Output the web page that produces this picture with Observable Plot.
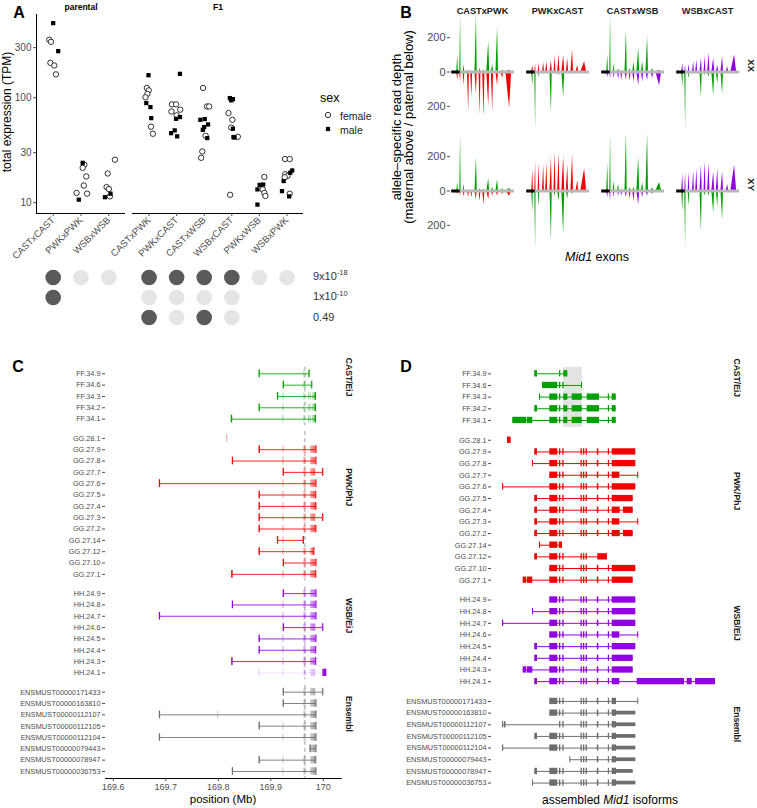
<!DOCTYPE html>
<html><head><meta charset="utf-8">
<script src="https://cdn.jsdelivr.net/npm/d3@7"></script>
<script src="https://cdn.jsdelivr.net/npm/@observablehq/plot@0.6"></script>
<style>
body{margin:0;background:#fff;font-family:"Liberation Sans",Arial,sans-serif;}
#fig{position:relative;width:757px;height:808px;overflow:hidden;background:#fff;}
.lbl{position:absolute;white-space:nowrap;line-height:1;}
.lbl sup{font-size:0.68em;vertical-align:0;position:relative;top:-0.55em;}
</style></head><body><div id="fig"></div>
<script>
// ================= DATA =================
// Panel A: total expression (TPM); each entry [TPM, sex, jitter (in category units)]
const parentalCats = ["CASTxCAST","PWKxPWK","WSBxWSB"];
const f1Cats = ["CASTxPWK","PWKxCAST","CASTxWSB","WSBxCAST","PWKxWSB","WSBxPWK"];
const exprCASTxCAST = [[514,"male",0],[357,"female",-0.14],[341,"female",-0.08],[278,"male",0.18],[215,"female",-0.1],[203,"female",0.04],[167,"female",0.1]];
const exprPWKxPWK = [[24,"male",0.06],[23,"female",0.12],[21.5,"female",0.06],[17.8,"female",0.19],[14.6,"female",0.1],[12.4,"female",-0.16],[12.2,"female",0.22],[10.7,"male",-0.08]];
const exprWSBxWSB = [[25.7,"female",0.22],[19,"female",-0.04],[14.1,"female",-0.08],[13.5,"female",0],[12.2,"male",0.06],[11.5,"female",0.04],[11.3,"male",-0.14]];
const exprCASTxPWK = [[164,"male",-0.02],[124,"female",-0.08],[117.6,"female",-0.01],[109,"female",-0.06],[101,"female",-0.13],[89,"male",-0.1],[81.5,"male",0.05],[64,"male",0.08],[53,"female",0.07],[45.4,"female",0.14]];
const exprPWKxCAST = [[169,"male",0.12],[86.5,"female",-0.17],[86.5,"female",-0.02],[74,"female",-0.19],[77,"female",0.13],[68,"female",0],[65.5,"male",0.12],[63,"male",-0.02],[48.9,"male",-0.07],[46,"male",-0.2],[42.9,"male",0.02]];
const exprCASTxWSB = [[124,"female",-0.04],[82.6,"female",0.1],[82.6,"female",0.18],[61.7,"male",-0.14],[62.7,"male",0.02],[55.7,"male",0.14],[52.5,"male",0],[49.5,"male",-0.05],[43.5,"female",0.05],[41.3,"male",0.11],[30.8,"female",-0.07],[26.8,"female",-0.11]];
const exprWSBxCAST = [[99.3,"male",-0.07],[97,"male",0.04],[94.5,"male",-0.02],[71.5,"female",-0.12],[61.7,"female",0.02],[52,"female",-0.02],[50.7,"male",0.04],[42.2,"male",0.06],[41.8,"male",0.1],[42.5,"female",0.22],[11.9,"female",-0.06]];
const exprPWKxWSB = [[17.6,"female",0.18],[14.8,"male",0.01],[14.9,"male",0.14],[13.4,"male",-0.07],[13.4,"female",0.12],[12.4,"female",0.18],[11.6,"female",0.22],[9.6,"male",-0.07]];
const exprWSBxPWK = [[26.1,"female",-0.07],[26.1,"female",0.1],[20.3,"male",0.19],[19.3,"male",0.12],[18.7,"female",-0.06],[18,"female",0.02],[17.5,"female",-0.08],[16.1,"male",-0.12],[12.9,"male",-0.18],[12.2,"female",0.1],[11.5,"male",0.08]];
const yTicksA = [10,30,100,300];
// significance matrix (1 = significant, 0 = not, null = not tested)
const pLabels = ["9x10<sup>-18</sup>","1x10<sup>-10</sup>","0.49"];
const sigRow1 = [1,0,0, 1,1,1,1,0,0];
const sigRow2 = [1,null,null, 0,0,0,0,null,null];
const sigRow3 = [null,null,null, 1,0,1,0,null,null];

// Panel B: allele-specific read depth per exon (maternal above / paternal below)
const crosses = ["CASTxPWK","PWKxCAST","CASTxWSB","WSBxCAST"];
const karyotypes = ["XX","XY"];
const exonCenter = [0.11,0.155,0.21,0.28,0.33,0.40,0.46,0.52,0.59,0.655,0.73,0.81,0.91];
const exonWidth  = [0.025,0.02,0.025,0.03,0.03,0.035,0.03,0.035,0.045,0.035,0.04,0.04,0.09];
const untypedExons = [0.035,0.08,0.12];
const mat_CASTxPWK_XX = [98,335,43,10,5,335,20,10,180,43,263,10,10];
const pat_CASTxPWK_XX = [50,60,80,230,150,130,250,260,200,230,80,40,210];
const mat_PWKxCAST_XX = [40,45,50,55,60,65,90,100,95,80,130,40,60];
const pat_PWKxCAST_XX = [80,335,30,10,10,240,10,20,150,10,10,5,5];
const mat_CASTxWSB_XX = [100,335,50,20,10,240,20,60,140,60,210,20,10];
const pat_CASTxWSB_XX = [35,40,40,45,50,50,55,60,80,60,50,40,80];
const mat_WSBxCAST_XX = [50,40,45,60,70,80,90,110,80,40,90,30,100];
const pat_WSBxCAST_XX = [90,335,40,10,10,150,20,30,140,70,130,10,10];
const mat_CASTxPWK_XY = [50,335,40,5,5,200,15,10,70,20,65,15,15];
const pat_CASTxPWK_XY = [20,30,35,40,40,50,60,80,50,30,30,20,30];
const mat_PWKxCAST_XY = [120,170,160,150,165,200,230,220,200,150,210,60,130];
const pat_PWKxCAST_XY = [120,335,90,10,10,290,30,60,250,50,20,10,10];
const mat_CASTxWSB_XY = [160,335,60,40,10,335,20,20,200,50,335,20,50];
const pat_CASTxWSB_XY = [40,60,40,30,30,40,50,60,80,40,30,20,10];
const mat_WSBxCAST_XY = [100,110,110,115,130,150,170,160,110,130,110,40,150];
const pat_WSBxCAST_XY = [120,335,90,10,10,240,30,30,130,90,170,10,10];

// Panels C & D: isoforms and their exons
const groupNames = ["CAST/EiJ","PWK/PhJ","WSB/EiJ","Ensembl"];
const mainExons = ["M","b","c","d","e","f","g","h"];
const castIsoforms = ["FF.34.9","FF.34.6","FF.34.3","FF.34.2","FF.34.1"];
const castExons = [["a","b","fc"],["f6","b","c","ft"],["s159","M","b","fc","fd","fe","h","fu"],["a","M","b","fc","fd","fe","h","fu"],["p1","p2","M","b","fc","fd","fe","h","fu"]];
const pwkIsoforms = ["GG.28.1","GG.27.9","GG.27.8","GG.27.7","GG.27.6","GG.27.5","GG.27.4","GG.27.3","GG.27.2","GG.27.14","GG.27.12","GG.27.10","GG.27.1"];
const pwkExons = [["g28"],["a",...mainExons,"U"],["s152",...mainExons,"U"],[...mainExons,"Ua","e773"],["s0",...mainExons,"U"],["a",...mainExons,"U2"],["a",...mainExons,"Uc","Ub"],["a",...mainExons,"Ua","e773"],["a",...mainExons,"Uc","Ub"],["s159","M","g14"],["a","M","b","c","d","e","f","g12"],[...mainExons,"U"],["q1","p2",...mainExons,"U2"]];
const wsbIsoforms = ["HH.24.9","HH.24.8","HH.24.7","HH.24.6","HH.24.5","HH.24.4","HH.24.3","HH.24.1"];
const wsbExons = [[...mainExons,"U"],["s152",...mainExons,"U"],["s0",...mainExons,"U"],[...mainExons,"Ua","e773"],["a",...mainExons,"U"],["a",...mainExons,"U2"],["q1","p2",...mainExons,"U2"],["a",...mainExons,"Ua","x1","x2","x3"]];
const ensIsoforms = ["ENSMUST00000171433","ENSMUST00000163810","ENSMUST00000112107","ENSMUST00000112105","ENSMUST00000112104","ENSMUST00000079443","ENSMUST00000078947","ENSMUST00000036753"];
const ensExons = [[...mainExons,"Uth","e773"],[...mainExons,"Uth","Ut"],["s0","s0b","b","c","d","e","f","g","h","Uth","Ut"],["a",...mainExons,"Uth","Ut"],["s0",...mainExons,"Uth","Ut"],["s190","d","e","f","g","h","Uth","Ut"],["a",...mainExons,"Uth","Ut2"],["s152",...mainExons,"Uth","Ut"]];
const faintIsoforms = ["HH.24.1"];
const thinExons = ["Ut","Ut2"];
// genomic exon coordinates (Mb) for panel C
const exonMbStart = {s0:169.688,s0b:169.8,g28:169.817,p1:169.825,q1:169.826,p2:169.8265,s152:169.827,a:169.878,s159:169.913,f6:169.924,M:169.924,b:169.964,c:169.966,g14:169.962,fc:169.973,fd:169.976,s190:169.975,d:169.977,ft:169.978,e:169.979,f:169.980,fe:169.981,g:169.982,g12:169.981,h:169.983,fu:169.984,U:169.984,U2:169.984,Ua:169.984,Uc:169.984,Ub:169.9852,Uth:169.984,Ut:169.985,Ut2:169.985,e773:169.999,x1:170.000,x2:170.0035,x3:170.0045};
const exonMbEnd   = {s0:169.688,s0b:169.8,g28:169.817,p1:169.825,q1:169.826,p2:169.827,s152:169.827,a:169.878,s159:169.913,f6:169.924,M:169.924,b:169.964,c:169.966,g14:169.962,fc:169.973,fd:169.976,s190:169.975,d:169.977,ft:169.978,e:169.979,f:169.980,fe:169.981,g:169.982,g12:169.982,h:169.983,fu:169.985,U:169.986,U2:169.9855,Ua:169.985,Uc:169.985,Ub:169.9858,Uth:169.985,Ut:169.986,Ut2:169.9855,e773:169.999,x1:170.003,x2:170.004,x3:170.006};
// assembled (intron-compressed) exon coordinates for panel D
const isoExonStart = {s0:122,s0b:124,g28:127,p1:132.3,q1:142.7,p2:146.7,s152:152,a:154.3,s159:159,f6:162,M:169.3,b:179,c:182.3,g14:178.7,fc:183.3,fd:191.7,s190:189.3,d:200.5,ft:201,e:203,f:205.6,fe:206.7,g:216.8,g12:217.3,h:227.8,fu:231.7,U:231.7,U2:231.7,Ua:231.7,Uc:231.7,Ub:243,Uth:231.7,Ut:236,Ut2:236,e773:257.2,x1:256.7,x2:306.7,x3:315};
const isoExonEnd   = {s0:123.2,s0b:125.5,g28:130.7,p1:146,q1:146,p2:152.3,s152:153,a:157,s159:160,f6:177.3,M:177.3,b:180.3,c:183.6,g14:182,fc:187.3,fd:201.7,s190:190.3,d:201.8,ft:202,e:204.3,f:206.9,fe:219,g:218.3,g12:227,h:229,fu:235.7,U:255.3,U2:252.7,Ua:239.3,Uc:239.7,Ub:252.7,Uth:236,Ut:255.3,Ut2:252.7,e773:258.2,x1:304,x2:311.7,x3:335};
const highlightIso = [183, 201.7];
const boundaryMb = 169.965;
const xTicksC = [169.6,169.7,169.8,169.9,170];

// ================= STYLE / HELPERS =================
const FONT = "Liberation Sans, Arial, sans-serif";
const strainColor = {CAST:"#00A000", PWK:"#F00000", WSB:"#9000E0"};
const groupColor = ["#00A000","#F00000","#9000E0","#6E6E6E"];
const fig = document.getElementById("fig");
function place(el, left, top){ el.style.position="absolute"; el.style.left=left+"px"; el.style.top=top+"px"; fig.appendChild(el); }
function label(html, x, y, o={}){
  const d=document.createElement("div"); d.className="lbl"; d.innerHTML=html;
  d.style.fontSize=(o.size||11)+"px"; d.style.color=o.color||"#000";
  if(o.bold) d.style.fontWeight="bold";
  const ax = o.anchor==="start"?"0%":o.anchor==="end"?"-100%":"-50%";
  d.style.left=x+"px"; d.style.top=y+"px";
  d.style.transform=`translate(${ax},-50%)`+(o.rotate?` rotate(${o.rotate}deg)`:"");
  fig.appendChild(d);
}
const baseStyle = {fontFamily:FONT, background:"transparent", overflow:"visible"};

// ================= PANEL A =================
function toRows(cats, arrays){
  const out=[]; arrays.forEach((arr,i)=>arr.forEach(([v,sex,j])=>out.push({cat:cats[i], idx:i, x:i+j, tpm:v, sex})));
  return out;
}
const parentalData = toRows(parentalCats,[exprCASTxCAST,exprPWKxPWK,exprWSBxWSB]);
const f1Data = toRows(f1Cats,[exprCASTxPWK,exprPWKxCAST,exprCASTxWSB,exprWSBxCAST,exprPWKxWSB,exprWSBxPWK]);
const yDomA = [7.9, 621];
function exprPlot(cats, data, width, mL, mR, showY){
  const n=cats.length;
  return Plot.plot({
    width, height:330, marginLeft:mL, marginRight:mR, marginTop:14, marginBottom:117,
    style:{...baseStyle, fontSize:"10px"},
    x:{domain:[-0.6, n-0.4]}, y:{type:"log", domain:yDomA},
    marks:[
      showY ? Plot.ruleX([-0.6],{stroke:"#000", strokeWidth:1}) : null,
      Plot.ruleY([yDomA[0]],{stroke:"#000", strokeWidth:1}),
      showY ? Plot.axisY({ticks:yTicksA, tickFormat:d=>String(d), tickSize:3, tickPadding:2, fontSize:10, color:"#4d4d4d", label:null}) : Plot.axisY({ticks:[], label:null}),
      Plot.axisX({ticks:d3.range(n), tickFormat:i=>cats[i], tickRotate:-45, tickSize:3, tickPadding:2, fontSize:9.5, color:"#4d4d4d", label:null}),
      Plot.dot(data.filter(d=>d.sex==="female"),{x:"x", y:"tpm", symbol:"circle", r:2.7, stroke:"#000", strokeWidth:0.8, fill:"#fff"}),
      Plot.dot(data.filter(d=>d.sex==="male"),{x:"x", y:"tpm", symbol:"square", r:2.4, fill:"#000"})
    ]
  });
}
place(exprPlot(parentalCats, parentalData, 130, 36, 5, true), 0, 0);
place(exprPlot(f1Cats, f1Data, 200, 5, 24, false), 127, 0);

// significance matrix
function matrixPlot(cats, offset, width, xRange){
  const n=cats.length, cells=[];
  [sigRow1,sigRow2,sigRow3].forEach((row,r)=>{ for(let i=0;i<n;i++){ const v=row[offset+i]; if(v!==null) cells.push({x:i,row:r,sig:v}); } });
  return Plot.plot({
    width, height:70, margin:0, style:baseStyle,
    x:{domain:[-0.6,n-0.4], range:xRange, axis:null},
    y:{type:"point", domain:[0,1,2], range:[14.7,55.3], padding:0, axis:null},
    marks:[
      Plot.dot(cells.filter(d=>!d.sig),{x:"x", y:"row", r:7.8, fill:"#e5e5e5"}),
      Plot.dot(cells.filter(d=>d.sig),{x:"x", y:"row", r:7.8, fill:"#5a5a5a"})
    ]
  });
}
place(matrixPlot(parentalCats, 0, 130, [36,125]), 0, 262);
place(matrixPlot(f1Cats, 3, 200, [5,176]), 127, 262);
pLabels.forEach((t,i)=>label(t, 313, [275.5,296,317][i], {anchor:"start", size:11, color:"#333"}));

label("A", 19, 13, {bold:true, size:16});
label("parental", 81, 6.5, {bold:true, size:8.5});
label("F1", 218, 6.5, {bold:true, size:8.5});
label("total expression (TPM)", 6.5, 112, {rotate:-90, size:12});
// legend
label("sex", 320, 98, {anchor:"start", size:12.5});
label("female", 340, 115.5, {anchor:"start", size:10.5, color:"#222"});
label("male", 340, 129.5, {anchor:"start", size:10.5, color:"#222"});
(function(){
  const s = d3.create("svg").attr("width",20).attr("height",30);
  s.append("circle").attr("cx",8).attr("cy",8).attr("r",2.7).attr("fill","#fff").attr("stroke","#000").attr("stroke-width",0.8);
  s.append("rect").attr("x",8-2.1).attr("y",22-2.1).attr("width",4.2).attr("height",4.2).attr("fill","#000");
  place(s.node(), 320, 107);
})();

// ================= PANEL B =================
const depthTables = {
  "CASTxPWK|XX":[mat_CASTxPWK_XX,pat_CASTxPWK_XX], "PWKxCAST|XX":[mat_PWKxCAST_XX,pat_PWKxCAST_XX],
  "CASTxWSB|XX":[mat_CASTxWSB_XX,pat_CASTxWSB_XX], "WSBxCAST|XX":[mat_WSBxCAST_XX,pat_WSBxCAST_XX],
  "CASTxPWK|XY":[mat_CASTxPWK_XY,pat_CASTxPWK_XY], "PWKxCAST|XY":[mat_PWKxCAST_XY,pat_PWKxCAST_XY],
  "CASTxWSB|XY":[mat_CASTxWSB_XY,pat_CASTxWSB_XY], "WSBxCAST|XY":[mat_WSBxCAST_XY,pat_WSBxCAST_XY]
};
const bData = [];
for (const cross of crosses) for (const kt of karyotypes) {
  const [mother, father] = cross.split("x");
  const [mat, pat] = depthTables[cross+"|"+kt];
  [[mat,1,strainColor[mother],"m"],[pat,-1,strainColor[father],"p"]].forEach(([vals,sgn,col,who])=>{
    vals.forEach((h,k)=>{
      const c=exonCenter[k], w=exonWidth[k], key=cross+kt+who+k;
      bData.push({cross,kt,key,col,x:c-w/2,y:0});
      bData.push({cross,kt,key,col,x:c+w*0.15,y:sgn*h});
      bData.push({cross,kt,key,col,x:c+w/2,y:0});
    });
  });
}
const bPlot = Plot.plot({
  width:377, height:290, marginLeft:69, marginRight:18, marginTop:13.5, marginBottom:42.5,
  style:{...baseStyle, fontSize:"10px"},
  fx:{domain:crosses, paddingInner:0.15, paddingOuter:0, axis:null},
  fy:{domain:karyotypes, paddingInner:0.034, paddingOuter:0, axis:null},
  x:{domain:[0,1], axis:null},
  y:{domain:[-335,335]},
  color:{type:"identity"},
  marks:[
    Plot.axisY({ticks:[-200,0,200], tickFormat:d=>String(Math.abs(d)), tickSize:3, tickPadding:2, fontSize:11, color:"#4d4d4d", label:null}),
    Plot.areaY(bData,{x:"x", y:"y", z:"key", fill:"col", fx:"cross", fy:"kt", curve:"linear"}),
    Plot.ruleY([{y:0,x1:0.14,x2:1}],{y:"y", x1:"x1", x2:"x2", stroke:"#b8b8b8", strokeWidth:3}),
    Plot.dot(untypedExons.map(x=>({x,y:0})),{x:"x", y:"y", symbol:"square", r:1.7, fill:"#000"}),
    Plot.text(crosses,{fx:d=>d, fy:()=>"XX", text:d=>d, frameAnchor:"top", dy:-7.5, fontWeight:"bold", fontSize:9.2, fill:"#1a1a1a"}),
    Plot.text(karyotypes,{fx:()=>"WSBxCAST", fy:d=>d, text:d=>d, frameAnchor:"right", dx:11.5, rotate:90, fontWeight:"bold", fontSize:9.5, fill:"#1a1a1a"})
  ]
});
place(bPlot, 380, 0);
label("B", 406, 13, {bold:true, size:16});
label("allele\u2013specific read depth", 396, 127, {rotate:-90, size:13});
label("(maternal above / paternal below)", 407.5, 127, {rotate:-90, size:13});
label("<i>Mid1</i> exons", 597, 257, {size:12.5});

// ================= PANELS C & D =================
const isoGroups = [[castIsoforms,castExons],[pwkIsoforms,pwkExons],[wsbIsoforms,wsbExons],[ensIsoforms,ensExons]];
const rows = []; let ri = 0;
isoGroups.forEach(([names, exl], g)=>names.forEach((n,j)=>{ rows.push({name:n, g, pos:ri + g*0.7, exons:exl[j], color:groupColor[g], faint:faintIsoforms.includes(n)}); ri++; }));
const groupInfo = groupNames.map((name,g)=>{ const r=rows.filter(d=>d.g===g); return {name, g, first:r[0].pos, last:r[r.length-1].pos, mid:(r[0].pos+r[r.length-1].pos)/2}; });
const posToName = new Map(rows.map(d=>[d.pos,d.name]));
const rowPositions = rows.map(d=>d.pos);

// ---- C ----
const spC = 11.33, topC = 20, firstC = 33.3, hC = 468, mbC = 30;
const yMinC = -(firstC-topC)/spC, yMaxC = (hC-mbC-firstC)/spC;
const cLines = rows.filter(d=>d.exons.length>1).map(d=>({...d, x1:d3.min(d.exons,e=>exonMbStart[e]), x2:d3.max(d.exons,e=>exonMbEnd[e])}));
const cEnds = cLines.filter(d=>!d.faint).flatMap(d=>[{pos:d.pos,color:d.color,x:d.x1},{pos:d.pos,color:d.color,x:d.x2}]);
const cExons = rows.flatMap(d=>d.exons.map(e=>({pos:d.pos, color:d.color, x1:exonMbStart[e], x2:exonMbEnd[e], op: d.faint && !["x1","x2","x3"].includes(e) ? 0.18 : (d.faint ? 0.9 : 0.4)})));
const cPlot = Plot.plot({
  width:380, height:hC, marginLeft:105, marginRight:38.3, marginTop:topC, marginBottom:mbC,
  style:{...baseStyle, fontSize:"8px"},
  x:{domain:[169.585,170.036]},
  y:{domain:[yMinC,yMaxC], reverse:true},
  color:{type:"identity"},
  marks:[
    Plot.ruleY([yMaxC],{stroke:"#000", strokeWidth:1}),
    Plot.axisX({ticks:xTicksC, tickFormat:d=>d===170?"170":d.toFixed(1), tickSize:3, tickPadding:2, fontSize:9, color:"#4d4d4d", label:null}),
    Plot.axisY({ticks:rowPositions, tickFormat:d=>posToName.get(d), tickSize:3, tickPadding:2, fontSize:7.3, color:"#4d4d4d", label:null}),
    Plot.ruleX(groupInfo,{x:()=>boundaryMb, y1:d=>d.first-0.6, y2:d=>d.last+0.6, stroke:"#a0a0a0", strokeWidth:1, strokeDasharray:"4,3"}),
    Plot.ruleY(cLines,{y:"pos", x1:"x1", x2:"x2", stroke:"color", strokeWidth:1, strokeOpacity:d=>d.faint?0.12:0.85}),
    Plot.rect(cExons,{x1:"x1", x2:"x2", y1:d=>d.pos-0.32, y2:d=>d.pos+0.32, fill:"color", fillOpacity:"op", insetLeft:-0.5, insetRight:-0.5}),
    Plot.ruleX(cEnds,{x:"x", y1:d=>d.pos-0.34, y2:d=>d.pos+0.34, stroke:"color", strokeWidth:1.1})
    ,Plot.text(groupInfo,{y:"mid", text:"name", frameAnchor:"right", dx:7, rotate:90, fontWeight:"bold", fontSize:8.6, fill:"#1a1a1a"})
  ]
});
place(cPlot, 0, 340);
label("C", 18, 367, {bold:true, size:16});
label("position (Mb)", 223, 800, {size:11.5});

// ---- D ----
const spD = 11.66, topD = 20, firstD = 33.3, hD = 468;
const yMinD = -(firstD-topD)/spD, yMaxD = 36;
const mbD = hD - (topD + (yMaxD-yMinD)*spD);
const dLines = rows.filter(d=>d.exons.length>1).map(d=>({...d, x1:d3.min(d.exons,e=>isoExonStart[e]), x2:d3.max(d.exons,e=>isoExonEnd[e])}));
const dExons = rows.flatMap(d=>d.exons.map(e=>({pos:d.pos, color:d.color, x1:isoExonStart[e], x2:isoExonEnd[e], h: thinExons.includes(e)?0.16:0.27})));
const castInfo = groupInfo[0];
const dPlot = Plot.plot({
  width:377, height:hD, marginLeft:111, marginRight:32, marginTop:topD, marginBottom:mbD,
  style:{...baseStyle, fontSize:"8px"},
  x:{domain:[111,345], axis:null},
  y:{domain:[yMinD,yMaxD], reverse:true},
  color:{type:"identity"},
  marks:[
    Plot.axisY({ticks:rowPositions, tickFormat:d=>posToName.get(d), tickSize:3, tickPadding:2, fontSize:7.3, color:"#4d4d4d", label:null}),
    Plot.rect([castInfo],{x1:()=>highlightIso[0], x2:()=>highlightIso[1], y1:d=>d.first-0.55, y2:d=>d.last+0.6, fill:"#e3e3e3"}),
    Plot.ruleY(dLines,{y:"pos", x1:"x1", x2:"x2", stroke:"color", strokeWidth:1}),
    Plot.rect(dExons,{x1:"x1", x2:"x2", y1:d=>d.pos-d.h, y2:d=>d.pos+d.h, fill:"color"}),
    Plot.text(groupInfo,{y:"mid", text:"name", frameAnchor:"right", dx:11, rotate:90, fontWeight:"bold", fontSize:8.6, fill:"#1a1a1a"})
  ]
});
place(dPlot, 380, 340);
label("D", 406, 367, {bold:true, size:16});
label("assembled <i>Mid1</i> isoforms", 610, 800, {size:12});
</script></body></html>
